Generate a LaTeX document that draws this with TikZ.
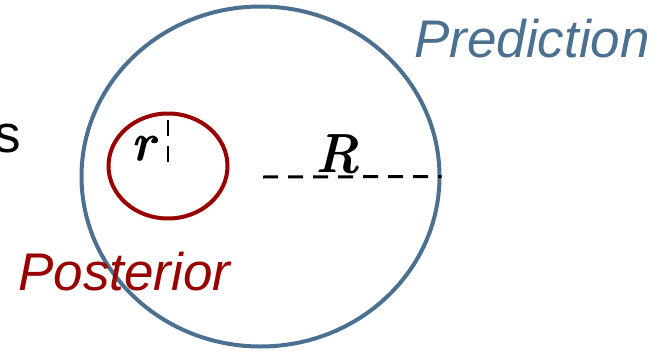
\documentclass[tikz,border=0pt]{standalone}
\usepackage{fontspec}
\usepackage{graphicx}
\setsansfont{Liberation Sans}
\usetikzlibrary{shapes.geometric}
\definecolor{predblue}{HTML}{4B7090}
\definecolor{postred}{HTML}{990000}
\newcommand{\thickglyph}[1]{\leavevmode\rlap{\kern-0.16pt #1}\rlap{\kern0.16pt #1}\rlap{\raisebox{0.16pt}{#1}}\rlap{\raisebox{-0.16pt}{#1}}#1}
\begin{document}
\begin{tikzpicture}[x=1pt,y=-1pt,
  lbl/.style={font=\sffamily\itshape\fontsize{53}{60}\selectfont, inner sep=0pt},
  mathlbl/.style={inner sep=0pt},
  dashln/.style={line width=3pt, dash pattern=on 15pt off 10pt}]
\useasboundingbox (0,0) rectangle (666,351);
\node[draw=predblue, line width=4pt, ellipse, minimum width=358pt, minimum height=340pt, inner sep=0pt] (big) at (260.5,176.5) {};
\node[draw=postred, line width=4pt, ellipse, minimum width=119pt, minimum height=105pt, inner sep=0pt] (small) at (168,166) {};
\coordinate (c) at (263,177);
\draw[dashln] (c) -- (big.east);
\coordinate (rt) at (168,120);
\coordinate (rb) at (168,162);
\draw[line width=2.5pt, dash pattern=on 16pt off 10pt] (rt) -- (rb);
\node[mathlbl, anchor=base] (R) at (338,172) {\scalebox{5.4}{\thickglyph{$R$}}};
\node[mathlbl, anchor=base] (r) at (147,160) {\scalebox{5.3}{\thickglyph{$r$}}};
\node[lbl, text=predblue, anchor=base east] (pred) at (650,57) {Prediction};
\node[lbl, text=postred, anchor=base west] (post) at (18,290) {Posterior};
\node[inner sep=0pt, anchor=base east, font=\sffamily\fontsize{53}{60}\selectfont] (s) at (21,152) {s};
\end{tikzpicture}
\end{document}
